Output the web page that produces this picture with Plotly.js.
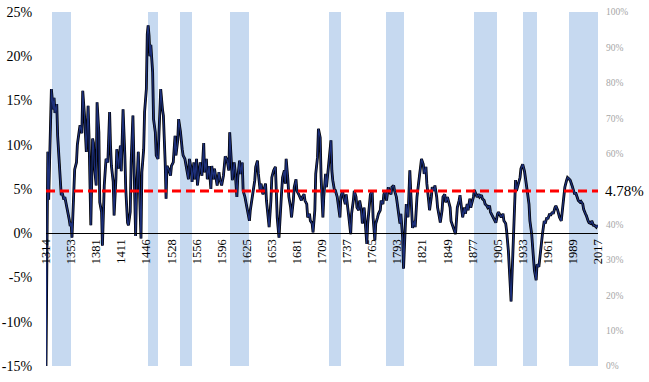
<!DOCTYPE html>
<html>
<head>
<meta charset="utf-8">
<script src="https://cdn.plot.ly/plotly-3.0.1.min.js"></script>
<style>html,body{margin:0;padding:0;background:#fff;}#chart{width:649px;height:382px;}</style>
</head>
<body>
<div id="chart"></div>
<script>
// Observation position (category index along the time axis; labels every 28 observations)
const obs = [0,1,2,3,5,6,8,9,10,12,13,15,16,17,18,20,21,23,24,26,27,28,29,30,31,32,34,35,37,38,40,41,43,44,45,47,48,50,51,52,53,54,56,57,59,60,62,63,65,67,69,71,72,73,75,76,78,79,81,83,84,86,88,89,91,92,94,95,97,98,100,101,103,106,107,109,110,112,113,114,115,116,117,119,120,122,123,125,127,128,130,131,133,134,135,137,139,140,142,144,145,147,148,150,152,153,155,157,159,160,162,163,165,166,168,169,171,172,174,176,177,179,180,182,184,185,187,188,191,193,194,196,198,200,202,204,205,207,208,210,211,213,214,216,217,219,220,222,224,225,227,228,230,231,233,234,236,237,239,240,242,243,245,246,248,249,251,252,254,256,257,258,260,261,263,264,266,267,268,270,271,273,274,276,277,279,280,282,283,285,286,288,289,291,292,294,295,297,298,300,301,303,304,306,307,309,310,312,313,315,316,318,319,320,322,323,325,326,328,329,331,332,334,335,337,338,340,341,343,344,346,347,349,350,352,353,355,356,358,359,361,362,364,365,367,368,370,371,373,374,376,377,379,380,382,383,385,386,388,389,391,392,394,395,396,398,399,401,402,404,405,406,407,408,409,411,412,414,415,417,418,419,421,422,424,425,427,428,430,431,433,434,436,437,439,440,442,443,445,446,448,449,451,452,454,455,457,458,459,461,462,464,465,467,468,470,471,473,474,476,477,478,480,481,483,484,486,487,489,490,492,493,495,496,498,499,501,502,504,505,507,508,510,511,513,514,516,517,518,519,520,521,522,523,524,525,527,529,530,532,534,535,537,539,540,542,543,544,545,547,548,550,551,553,554,556,557,559,560,562,563,565,566,568,569,571,572,573,575,576,578,579,581,582,584,585,587,588,590,591,593,594,596,597,599,600,602,603,605,606,608,609,611,612,614,615,616];
// Real interest rate, %
const rate = [-15,3.5,9.2,3.8,12,16.3,14.0,15.3,13.6,14.6,11.0,8.0,5.5,4.3,4.6,3.8,4.1,3.2,2.5,1.5,0.8,1.2,-0.5,1.5,4.0,7.2,8.0,10.0,11.5,12.2,11.3,16.1,13.3,9.9,9.2,14.4,11.0,0.9,6.9,10.7,10.2,7.6,5.4,14.8,11.4,3.5,2.4,-1.4,5.4,8.4,8.0,13.7,9.9,7.6,5.8,2.0,6.1,9.5,7.3,9.9,7.0,14.0,8.8,5.0,1.2,0.9,2.4,8.0,13.3,9.2,-0.3,4.5,9.2,-0.6,6.9,9.5,13.7,16.3,22.5,23.5,22.3,20.0,21.3,18.2,12.9,11.4,8.8,8.4,14.4,16.3,14.0,13.3,8.0,3.9,7.6,7.2,6.5,7.6,8.0,11.0,8.8,10.5,12.9,11.5,9.5,8.8,8.4,7.3,6.1,8.4,7.3,5.8,8.0,6.1,8.4,5.4,7.6,8.0,6.5,10.2,6.9,8.4,6.1,7.6,5.0,7.6,6.1,7.3,5.4,6.9,6.1,5.4,6.5,8.7,8.3,7.1,11.4,7.8,6.0,8.0,7.1,4.1,6.3,8.2,6.7,8.0,4.8,4.1,2.9,2.6,1.4,2.6,4.1,4.4,6.0,7.5,8.2,6.7,4.8,5.6,4.4,4.8,5.6,3.7,1.8,0.7,3.7,6.3,7.1,7.5,4.8,1.8,-0.5,1.8,4.8,6.3,7.1,5.6,8.4,6.0,4.1,2.9,1.8,3.7,5.2,6.1,4.8,4.4,4.1,3.7,4.1,4.4,3.7,3.3,1.8,2.2,1.4,1.1,0.1,2.6,6.7,8.6,11.8,10.8,6.3,1.8,4.1,6.7,5.2,7.1,8.6,10.5,7.1,6.0,4.8,4.8,4.1,3.3,1.8,4.1,4.8,4.1,3.3,4.4,2.9,1.8,-0.1,2.2,3.7,4.8,4.1,2.9,2.6,3.7,2.6,1.1,2.9,1.8,-1.2,1.1,3.7,4.4,4.8,1.8,-0.8,1.1,1.8,2.2,2.6,3.7,3.3,4.4,4.8,3.7,5.2,4.8,4.4,5.2,5.4,4.8,4.1,3.3,2.2,1.1,2.2,-0.5,-4.0,0.3,3.3,1.8,5.0,7.1,4.8,1.8,0.6,1.4,0.7,4.1,5.2,6.7,7.5,8.4,7.8,6.7,7.5,5.6,3.7,2.6,4.1,5.2,4.8,5.4,4.1,2.9,1.8,1.2,2.6,4.1,4.4,3.5,4.1,3.7,2.9,1.4,0.7,0.3,-0.1,1.4,2.9,3.7,4.3,2.6,1.8,2.9,2.2,3.3,2.6,3.9,2.9,3.7,4.1,4.9,4.4,4.1,4.4,4.1,4.3,3.9,3.7,3.3,3.1,2.9,3.1,2.4,2.0,1.8,1.4,1.2,2.2,2.4,2.0,1.8,2.2,1.4,1.1,0.3,-2.0,-4.2,-6.0,-7.7,-5.0,-2.0,1.5,4.5,6.0,4.8,5.6,6.3,7.3,7.8,7.0,6.1,4.8,3.3,1.4,-0.1,-1.5,-2.3,-4.2,-5.3,-3.5,-3.8,-2.7,-0.8,-0.1,1.4,1.1,1.8,1.6,2.2,2.0,2.4,2.2,2.9,3.1,2.6,2.2,1.8,1.4,2.6,4.1,5.2,6.0,6.3,6.1,6.0,5.4,5.0,4.4,4.6,4.1,3.7,3.5,3.6,3.3,2.7,2.2,2.0,1.4,1.2,1.1,1.4,0.9,0.9,0.7,0.9,0.7];
// Long-run average
const meanRate = 4.78;
// Shaded periods (start / end observation positions)
const bandStart = [7,114,149,205,316,379,478,532,584];
const bandEnd   = [28,125,163,227,329,400,503,548,617];
const bandLevel = [100,100,100,100,100,100,100,100,100];
// X tick labels (one every 28 observations)
const xTickLabels = ['1314','1353','1381','1411','1446','1528','1556','1596','1625','1653','1681','1709','1737','1765','1793','1821','1849','1877','1905','1933','1961','1989','2017'];
const labelEvery = 28;
// Left-axis ticks
const yTicks = [-15,-10,-5,0,5,10,15,20,25];
// Right-axis ticks (the 50% label is hidden behind the average label in the original)
const y2Ticks = [0,10,20,30,40,60,70,80,90,100];

const serif = '"Liberation Serif", "Times New Roman", serif';

const bandTrace = {
  type: 'bar',
  x: bandStart.map((s, i) => (s + bandEnd[i]) / 2),
  y: bandLevel,
  width: bandStart.map((s, i) => bandEnd[i] - s),
  marker: {color: '#c6d9f0', line: {width: 0}},
  yaxis: 'y',
  hoverinfo: 'skip',
  showlegend: false
};
const shadow = {
  type: 'scatter', mode: 'lines', x: obs, y: rate, yaxis: 'y2',
  line: {color: '#000000', width: 2.8}, hoverinfo: 'skip', showlegend: false
};
const line = {
  type: 'scatter', mode: 'lines', x: obs, y: rate, yaxis: 'y2',
  line: {color: '#1c2f7a', width: 1.3}, showlegend: false
};

const layout = {
  width: 649, height: 382,
  margin: {l: 46, r: 51, t: 12, b: 16, pad: 0},
  paper_bgcolor: '#ffffff', plot_bgcolor: 'rgba(0,0,0,0)',
  showlegend: false,
  bargap: 0,
  xaxis: {
    range: [0, (xTickLabels.length - 1) * labelEvery],
    tickmode: 'array',
    tickvals: xTickLabels.map((_, i) => i * labelEvery),
    ticktext: xTickLabels,
    tickangle: -90,
    tickfont: {family: serif, size: 12.5, color: '#000'},
    anchor: 'free',
    position: 15 / 40,
    showline: true, linecolor: '#000', linewidth: 1,
    ticks: '', showgrid: false, zeroline: false
  },
  yaxis: {
    range: [0, 100], side: 'right',
    tickmode: 'array', tickvals: y2Ticks, ticktext: y2Ticks.map(v => v + '%'),
    tickfont: {family: serif, size: 9.5, color: '#a6a6a6'},
    ticks: 'outside', ticklen: 5, tickcolor: 'rgba(0,0,0,0)',
    showgrid: false, zeroline: false, showline: false
  },
  yaxis2: {
    range: [-15, 25], side: 'left', overlaying: 'y',
    tickmode: 'array', tickvals: yTicks, ticktext: yTicks.map(v => v + '%'),
    tickfont: {family: serif, size: 14, color: '#000'},
    ticks: 'outside', ticklen: 10, tickcolor: 'rgba(0,0,0,0)',
    showgrid: false, zeroline: false, showline: false
  },
  shapes: [{
    type: 'line', xref: 'paper', x0: 0, x1: 1, yref: 'y2', y0: meanRate, y1: meanRate,
    line: {color: '#ff0000', width: 3, dash: '9px,5px'}
  }],
  annotations: [{
    xref: 'paper', x: 1, xanchor: 'left', xshift: 5,
    yref: 'y2', y: meanRate, yanchor: 'middle',
    text: meanRate + '%', showarrow: false,
    font: {family: serif, size: 15, color: '#000'}
  }]
};

Plotly.newPlot('chart', [bandTrace, shadow, line], layout, {staticPlot: true, displayModeBar: false});
</script>
</body>
</html>
